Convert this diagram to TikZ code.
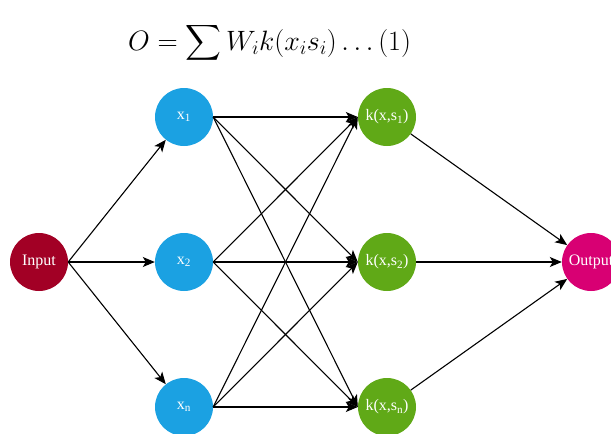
\RequirePackage{fix-cm}
\documentclass[tikz,border=0pt]{standalone}
\usepackage{amsmath}
\usepackage{fontspec}
\newfontfamily\nodefont{Liberation Serif}
\usetikzlibrary{arrows.meta}
\definecolor{inred}{HTML}{A20025}
\definecolor{xblue}{HTML}{1BA1E2}
\definecolor{kgreen}{HTML}{60A917}
\definecolor{outpink}{HTML}{D80073}
\tikzset{
  neuron/.style={circle, minimum size=58pt, inner sep=0pt, text=white,
    font=\nodefont\fontsize{16}{18}\selectfont},
  link/.style={-{Stealth[length=12pt,width=10pt,inset=3pt]}, line width=1.1pt}
}
\begin{document}
\begin{tikzpicture}[x=1pt,y=-1pt]
    \useasboundingbox (0,0) rectangle (611,434);

    % Formula
    \node[anchor=base west, inner sep=0pt, font=\fontsize{28}{32}\selectfont] (formula) at (128,50)
        {$\displaystyle O = \sum W_i k(x_i s_i) \ldots (1)$};

    % Input
    \node[neuron, fill=inred] (in) at (39,262) {Input};

    % Inputs x
    \node[neuron, fill=xblue] (x1) at (184,117) {x\textsubscript{1}};
    \node[neuron, fill=xblue] (x2) at (184,262) {x\textsubscript{2}};
    \node[neuron, fill=xblue] (x3) at (184,407) {x\textsubscript{n}};

    % Kernels
    \node[neuron, fill=kgreen] (k1) at (387,117) {k(x,s\textsubscript{1})};
    \node[neuron, fill=kgreen] (k2) at (387,262) {k(x,s\textsubscript{2})};
    \node[neuron, fill=kgreen] (k3) at (387,407) {k(x,s\textsubscript{n})};

    % Output
    \node[neuron, fill=outpink] (out) at (591,262) {Output};

    % Links
    \foreach \i in {1,2,3} {
        \draw[link] (in.east) -- (x\i);
        \draw[link] (k\i) -- (out);
        \foreach \j in {1,2,3} {
            \draw[link] (x\i.east) -- (k\j.west);
        }
    }
\end{tikzpicture}
\end{document}
